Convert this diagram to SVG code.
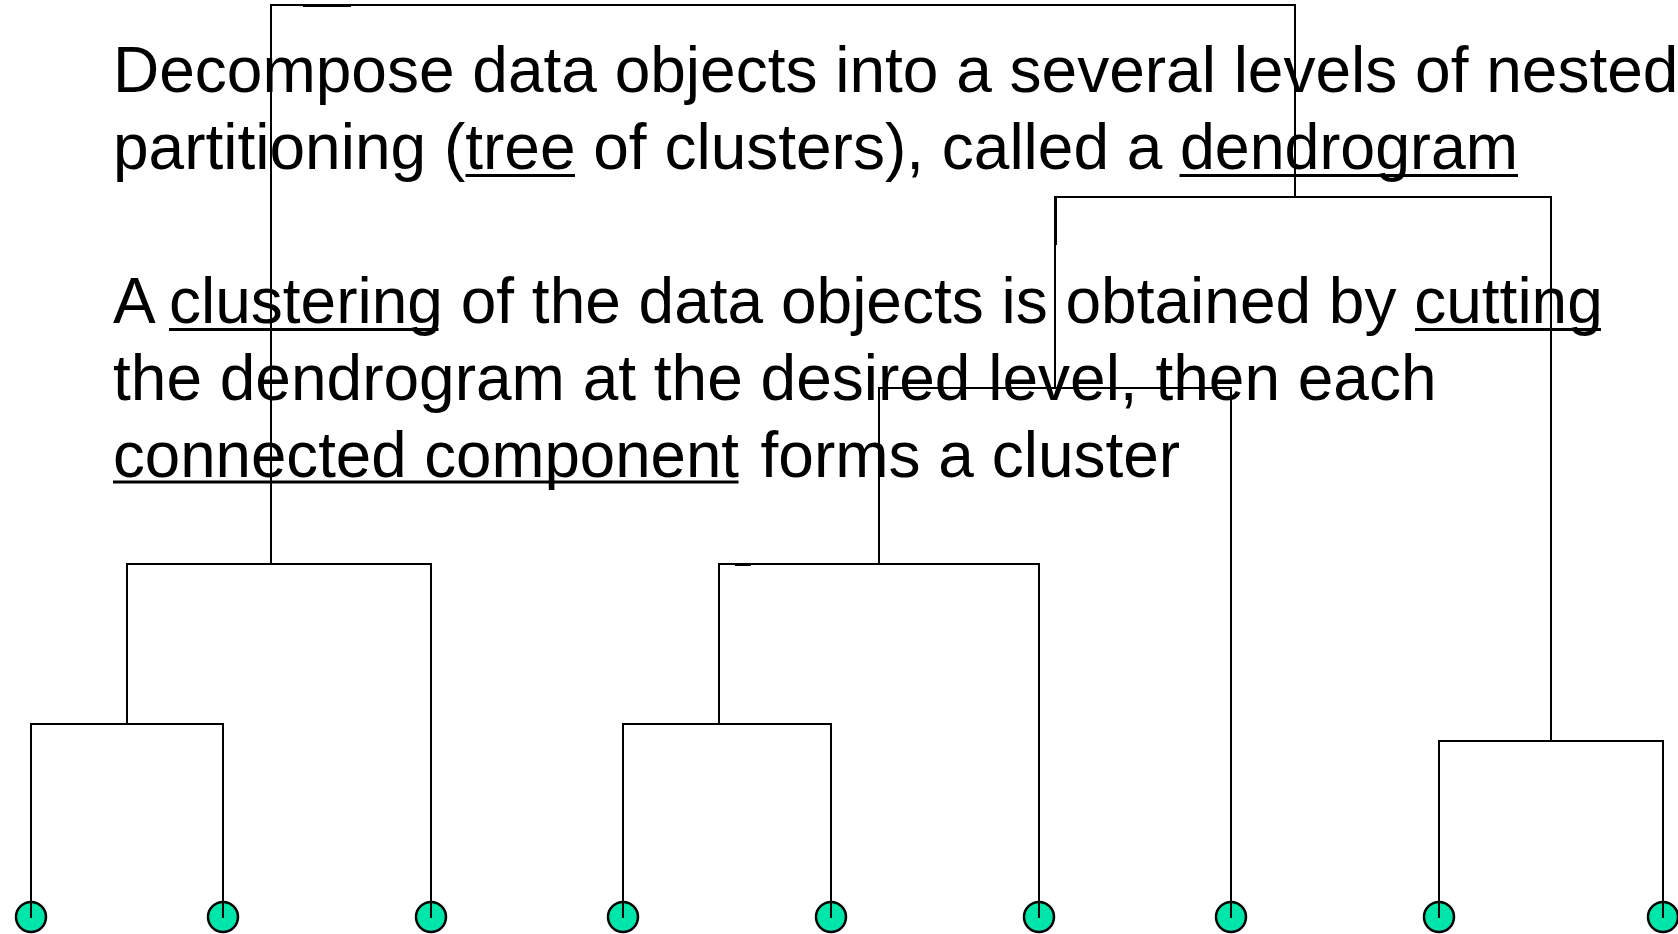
<svg xmlns="http://www.w3.org/2000/svg" width="1678" height="934" viewBox="0 0 1678 934">
  <style>
    .body { font-family: "Liberation Sans", Arial, sans-serif; font-size: 64px; fill: #000; }
    .ul { stroke: #000; stroke-width: 3; fill: none; }
    .edge { stroke: #000; stroke-width: 2; fill: none; stroke-linecap: square; }
    .leaf { fill: #00E5A9; stroke: #000; stroke-width: 2.5; }
  </style>
  <rect width="1678" height="934" fill="#fff"/>

  <!-- explanatory text -->
  <g id="caption">
    <text class="body" x="113" y="92">Decompose data objects into a several levels of nested</text>
    <text class="body" y="169"><tspan x="113">partitioning (tree of clusters), called a </tspan><tspan x="1180" textLength="338" lengthAdjust="spacingAndGlyphs">dendrogram</tspan></text>
    <text class="body" y="323"><tspan x="113">A</tspan><tspan x="169">clustering of the data objects is obtained by cutting</tspan></text>
    <text class="body" x="113" y="400">the dendrogram at the desired level, then each</text>
    <text class="body" y="477"><tspan x="113" textLength="626" lengthAdjust="spacingAndGlyphs">connected component</tspan><tspan x="760.5">forms a cluster</tspan></text>
  </g>
  <g id="underlines">
    <line class="ul" x1="465.5" y1="175.5" x2="575" y2="175.5"/>
    <line class="ul" x1="1179.5" y1="175.5" x2="1518" y2="175.5"/>
    <line class="ul" x1="169" y1="329.5" x2="438.5" y2="329.5"/>
    <line class="ul" x1="1415" y1="329.5" x2="1601" y2="329.5"/>
    <line class="ul" x1="113" y1="482" x2="738.5" y2="482"/>
  </g>

  <!-- leaf objects -->
  <g id="leaf-1"><circle class="leaf" cx="31" cy="917" r="15"/></g>
  <g id="leaf-2"><circle class="leaf" cx="223" cy="917" r="15"/></g>
  <g id="leaf-3"><circle class="leaf" cx="431" cy="917" r="15"/></g>
  <g id="leaf-4"><circle class="leaf" cx="623" cy="917" r="15"/></g>
  <g id="leaf-5"><circle class="leaf" cx="831" cy="917" r="15"/></g>
  <g id="leaf-6"><circle class="leaf" cx="1039" cy="917" r="15"/></g>
  <g id="leaf-7"><circle class="leaf" cx="1231" cy="917" r="15"/></g>
  <g id="leaf-8"><circle class="leaf" cx="1439" cy="917" r="15"/></g>
  <g id="leaf-9"><circle class="leaf" cx="1663" cy="917" r="15"/></g>

  <!-- dendrogram links -->
  <g id="connectors">
    <!-- left subtree -->
    <path class="edge" d="M31 917 V724 H223 V917"/>
    <path class="edge" d="M127 724 V564 H431 V917"/>
    <!-- root -->
    <path class="edge" d="M271 564 V5 H1295 V197"/>
    <!-- right subtree -->
    <path class="edge" d="M1055 388 V197 H1551 V741"/>
    <path class="edge" d="M879 564 V388 H1231 V917"/>
    <path class="edge" d="M719 724 V564 H1039 V917"/>
    <path class="edge" d="M623 917 V724 H831 V917"/>
    <path class="edge" d="M1439 917 V741 H1663 V917"/>
    <!-- short doubled strokes -->
    <line class="edge" x1="304" y1="6" x2="350" y2="6"/>
    <line class="edge" x1="736" y1="565" x2="750" y2="565"/>
    <line class="edge" x1="1056" y1="198" x2="1056" y2="244"/>
  </g>
</svg>
